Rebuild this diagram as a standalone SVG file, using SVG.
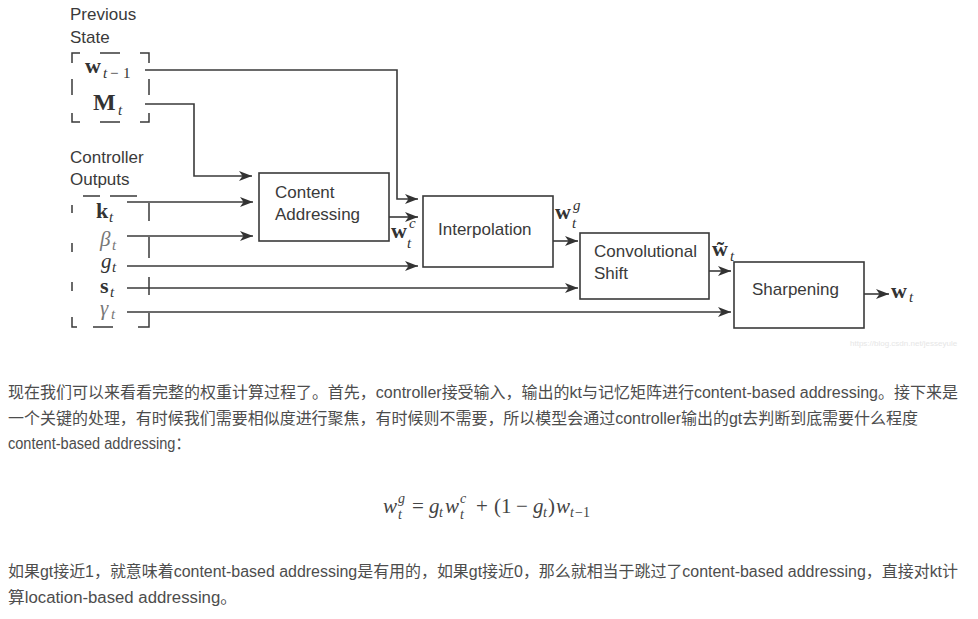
<svg xmlns="http://www.w3.org/2000/svg" width="978" height="619" viewBox="0 0 978 619">
<defs>
<marker id="ah" markerWidth="14" markerHeight="12" refX="13" refY="6" orient="auto" markerUnits="userSpaceOnUse"><path d="M0,1 L13,6 L0,11 L3.5,6 z" fill="#333"/></marker>
<style>
.lbl{font-family:"Liberation Sans",Arial,sans-serif;font-size:17px;fill:#3a3a3a}
.box{fill:#fff;stroke:#3a3a3a;stroke-width:1.6}
.br{fill:none;stroke:#3a3a3a;stroke-width:1.5}
.con{fill:none;stroke:#3a3a3a;stroke-width:1.6;marker-end:url(#ah)}
.mb{font-family:"Liberation Serif","Times New Roman",serif;font-weight:bold;font-size:22px;fill:#333}
.mi{font-family:"Liberation Serif","Times New Roman",serif;font-style:italic;font-size:21px;fill:#333}
.ms{font-family:"Liberation Serif","Times New Roman",serif;font-style:italic;font-size:15px;fill:#333}
.mr{font-family:"Liberation Serif","Times New Roman",serif;font-size:15px;fill:#333}
.body{font-family:"Liberation Sans","Noto Sans CJK SC",sans-serif;font-size:16px;fill:#4d4d4d}
.fi{font-family:"Liberation Serif","Times New Roman",serif;font-style:italic;font-size:21px;fill:#444}
.fr{font-family:"Liberation Serif","Times New Roman",serif;font-size:21px;fill:#444}
.fs{font-family:"Liberation Serif","Times New Roman",serif;font-style:italic;font-size:14px;fill:#444}
.fsr{font-family:"Liberation Serif","Times New Roman",serif;font-size:14px;fill:#444}
</style>
</defs>

<g id="previous-state">
<text class="lbl" x="70" y="20">Previous</text>
<text class="lbl" x="70" y="43">State</text>
<path class="br" d="M72,63 V53 H80 M100,53 H120 M140,53 H149 V63 M72,79 V95 M149,79 V95 M72,113 V122 H80 M100,122 H120 M140,122 H149 V113"/>
<text class="mb" x="85" y="73">w</text><text class="ms" x="103" y="78">t</text><text class="mr" x="110" y="78">−</text><text class="mr" x="123" y="78">1</text>
<text class="mb" x="93" y="110" style="font-size:24px">M</text><text class="ms" x="118" y="115">t</text>
</g>

<g id="controller-outputs">
<text class="lbl" x="70" y="163">Controller</text>
<text class="lbl" x="70" y="185">Outputs</text>
<path class="br" d="M83,196 H100 M110,196 H137 M72,205 V213 M72,243 V252 M72,282 V291 M72,317 V327 H77 M93,327 H113 M138,327 H149 V313 M149,203 V221 M149,237 V258 M149,277 V295"/>
<text class="mb" x="96" y="218">k</text><text class="ms" x="109" y="222">t</text>
<text class="mi" x="100" y="246" style="fill:#777">β</text><text class="ms" x="112" y="250" style="fill:#777">t</text>
<text class="mi" x="101" y="268">g</text><text class="ms" x="112" y="272">t</text>
<text class="mb" x="100" y="293">s</text><text class="ms" x="110" y="297">t</text>
<text class="mi" x="100" y="315" style="fill:#777">γ</text><text class="ms" x="111" y="319" style="fill:#777">t</text>
</g>

<g id="content-addressing">
<rect class="box" x="259" y="173" width="130" height="68"/>
<text class="lbl" x="275" y="198">Content</text>
<text class="lbl" x="275" y="220">Addressing</text>
</g>

<g id="interpolation">
<rect class="box" x="423" y="196" width="130" height="71"/>
<text class="lbl" x="438" y="235">Interpolation</text>
</g>

<g id="convolutional-shift">
<rect class="box" x="580" y="233" width="129" height="66"/>
<text class="lbl" x="594" y="257">Convolutional</text>
<text class="lbl" x="594" y="279">Shift</text>
</g>

<g id="sharpening">
<rect class="box" x="734" y="262" width="130" height="66"/>
<text class="lbl" x="752" y="295">Sharpening</text>
</g>

<g id="connectors">
<path class="con" d="M145,70 H397 V199 H418"/>
<path class="con" d="M145,104 H194 V176 H252"/>
<path class="con" d="M127,202 H253"/>
<path class="con" d="M127,236 H253"/>
<path class="con" d="M389,217 H418"/>
<path class="con" d="M127,266 H418"/>
<path class="con" d="M553,241 H578"/>
<path class="con" d="M127,288 H578"/>
<path class="con" d="M709,271 H731"/>
<path class="con" d="M127,312 H731"/>
<path class="con" d="M864,294 H889"/>
</g>

<g id="edge-labels">
<text class="mb" x="391" y="238">w</text><text class="ms" x="409" y="228">c</text><text class="ms" x="407" y="248">t</text>
<text class="mb" x="555" y="219">w</text><text class="ms" x="573" y="210">g</text><text class="ms" x="572" y="228">t</text>
<text class="mb" x="712" y="256">w&#771;</text><text class="ms" x="730" y="261">t</text>
<text class="mb" x="891" y="298">w</text><text class="ms" x="909" y="302">t</text>
</g>

<text x="850" y="346" style="font-family:'Liberation Sans',sans-serif;font-size:8px;fill:#e6e6e6">https://blog.csdn.net/jesseyule</text>

<g id="body-text">
<text class="body" x="8" y="398" textLength="950" lengthAdjust="spacingAndGlyphs">现在我们可以来看看完整的权重计算过程了。首先，controller接受输入，输出的kt与记忆矩阵进行content-based addressing。接下来是</text>
<text class="body" x="8" y="424" textLength="910" lengthAdjust="spacingAndGlyphs">一个关键的处理，有时候我们需要相似度进行聚焦，有时候则不需要，所以模型会通过controller输出的gt去判断到底需要什么程度</text>
<text class="body" x="8" y="449" textLength="182" lengthAdjust="spacingAndGlyphs">content-based addressing：</text>
<text class="body" x="8" y="577" textLength="950" lengthAdjust="spacingAndGlyphs">如果gt接近1，就意味着content-based addressing是有用的，如果gt接近0，那么就相当于跳过了content-based addressing，直接对kt计</text>
<text class="body" x="8" y="603" textLength="229" lengthAdjust="spacingAndGlyphs">算location-based addressing。</text>
</g>

<g id="formula">
<text class="fi" x="383" y="513">w</text><text class="fs" x="398" y="503">g</text><text class="fs" x="398" y="519">t</text>
<text class="fr" x="412" y="513">=</text>
<text class="fi" x="429" y="513">g</text><text class="fs" x="439" y="517">t</text>
<text class="fi" x="445" y="513">w</text><text class="fs" x="460" y="503">c</text><text class="fs" x="460" y="519">t</text>
<text class="fr" x="476" y="513">+</text>
<text class="fr" x="494" y="513">(</text><text class="fr" x="501" y="513">1</text>
<text class="fr" x="516" y="513">−</text>
<text class="fi" x="533" y="513">g</text><text class="fs" x="543" y="517">t</text>
<text class="fr" x="548" y="513">)</text>
<text class="fi" x="556" y="513">w</text><text class="fs" x="570" y="517">t</text><text class="fsr" x="575" y="517">−1</text>
</g>
</svg>
